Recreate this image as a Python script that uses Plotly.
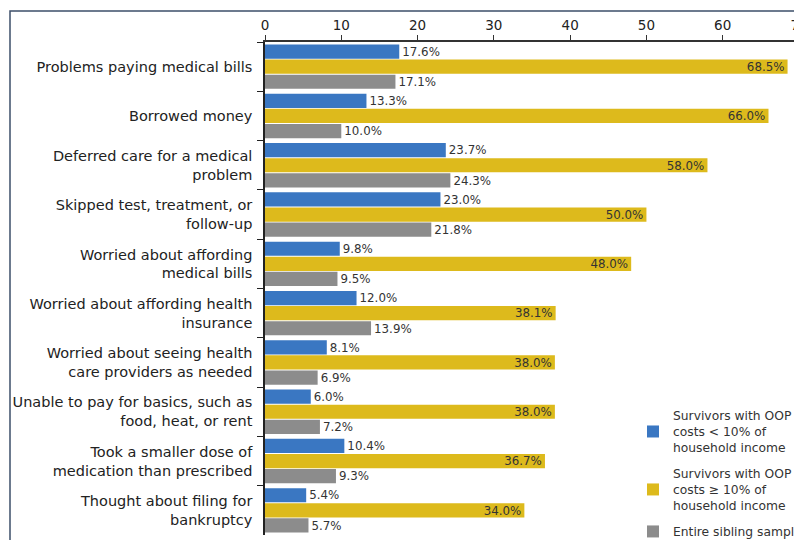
import plotly.graph_objects as go

categories = [
    "Problems paying medical bills",
    "Borrowed money",
    "Deferred care for a medical<br>problem",
    "Skipped test, treatment, or<br>follow-up",
    "Worried about affording<br>medical bills",
    "Worried about affording health<br>insurance",
    "Worried about seeing health<br>care providers as needed",
    "Unable to pay for basics, such as<br>food, heat, or rent",
    "Took a smaller dose of<br>medication than prescribed",
    "Thought about filing for<br>bankruptcy",
]
low_oop = [17.6, 13.3, 23.7, 23.0, 9.8, 12.0, 8.1, 6.0, 10.4, 5.4]
high_oop = [68.5, 66.0, 58.0, 50.0, 48.0, 38.1, 38.0, 38.0, 36.7, 34.0]
siblings = [17.1, 10.0, 24.3, 21.8, 9.5, 13.9, 6.9, 7.2, 9.3, 5.7]
series_names = [
    "Survivors with OOP<br>costs &lt; 10% of<br>household income",
    "Survivors with OOP<br>costs ≥ 10% of<br>household income",
    "Entire sibling sample",
]
x_ticks = [0, 10, 20, 30, 40, 50, 60, 70]

colors = ["#3a77c2", "#ddba1c", "#8c8c8c"]
FONT = "DejaVu Sans, Liberation Sans, sans-serif"

# the page body has an 8px margin, so the figure is sized to fill the window
W, H = 794, 532
L, R, T, B = 257, 3, 34, 5
PW, PH = W - L - R, H - T - B

fig = go.Figure()
for i, (name, vals, col, pos) in enumerate(zip(series_names, [low_oop, high_oop, siblings], colors,
                                               ["outside", "inside", "outside"])):
    fig.add_trace(go.Bar(
        y=categories, x=vals, name=name, orientation="h",
        legendgroup=f"g{i}",
        marker=dict(color=col, line=dict(width=0)),
        text=[f"{v:.1f}%" for v in vals],
        textposition=pos, insidetextanchor="end",
        textfont=dict(family=FONT, size=12.5, color="#333333"),
        cliponaxis=False,
    ))

fig.update_layout(
    width=W, height=H,
    margin=dict(l=L, r=R, t=T, b=B, autoexpand=False),
    paper_bgcolor="white", plot_bgcolor="white",
    barmode="group", bargap=0.08, bargroupgap=0.06,
    font=dict(family=FONT, size=14.5, color="#222222"),
    showlegend=True,
    legend=dict(
        x=(625 - L) / PW, y=-11 / PH, xanchor="left", yanchor="bottom",
        bgcolor="rgba(0,0,0,0)",
        font=dict(family=FONT, size=12.3, color="#333333"),
        tracegroupgap=7, traceorder="grouped",
        itemwidth=30,
    ),
    xaxis=dict(
        side="top", range=[0, 70], tickvals=x_ticks,
        showgrid=False, zeroline=False, automargin=False,
        showline=True, linecolor="#333333", linewidth=1.5,
        ticks="outside", ticklen=5, tickcolor="#333333",
        ticklabeloverflow="allow",
        tickfont=dict(family=FONT, size=13.5, color="#222222"),
    ),
    yaxis=dict(
        autorange="reversed", type="category",
        showgrid=False, zeroline=False, automargin=False,
        showline=True, linecolor="#222222", linewidth=1.5,
        ticks="outside", ticklen=6, tickcolor="#222222",
        tickson="boundaries", ticklabelstandoff=8,
        tickfont=dict(family=FONT, size=14.5, color="#222222"),
    ),
    uniformtext=dict(minsize=8, mode="show"),
)

# outer frame of the original figure (partly cropped)
fig.add_shape(type="rect", xref="paper", yref="paper",
              x0=(2 - L) / PW, x1=(830 - L) / PW,
              y0=(H - B - 560) / PH, y1=(H - B - 3) / PH,
              line=dict(color="#3d4f6a", width=1.5), layer="above")

fig.write_html("out.html")
